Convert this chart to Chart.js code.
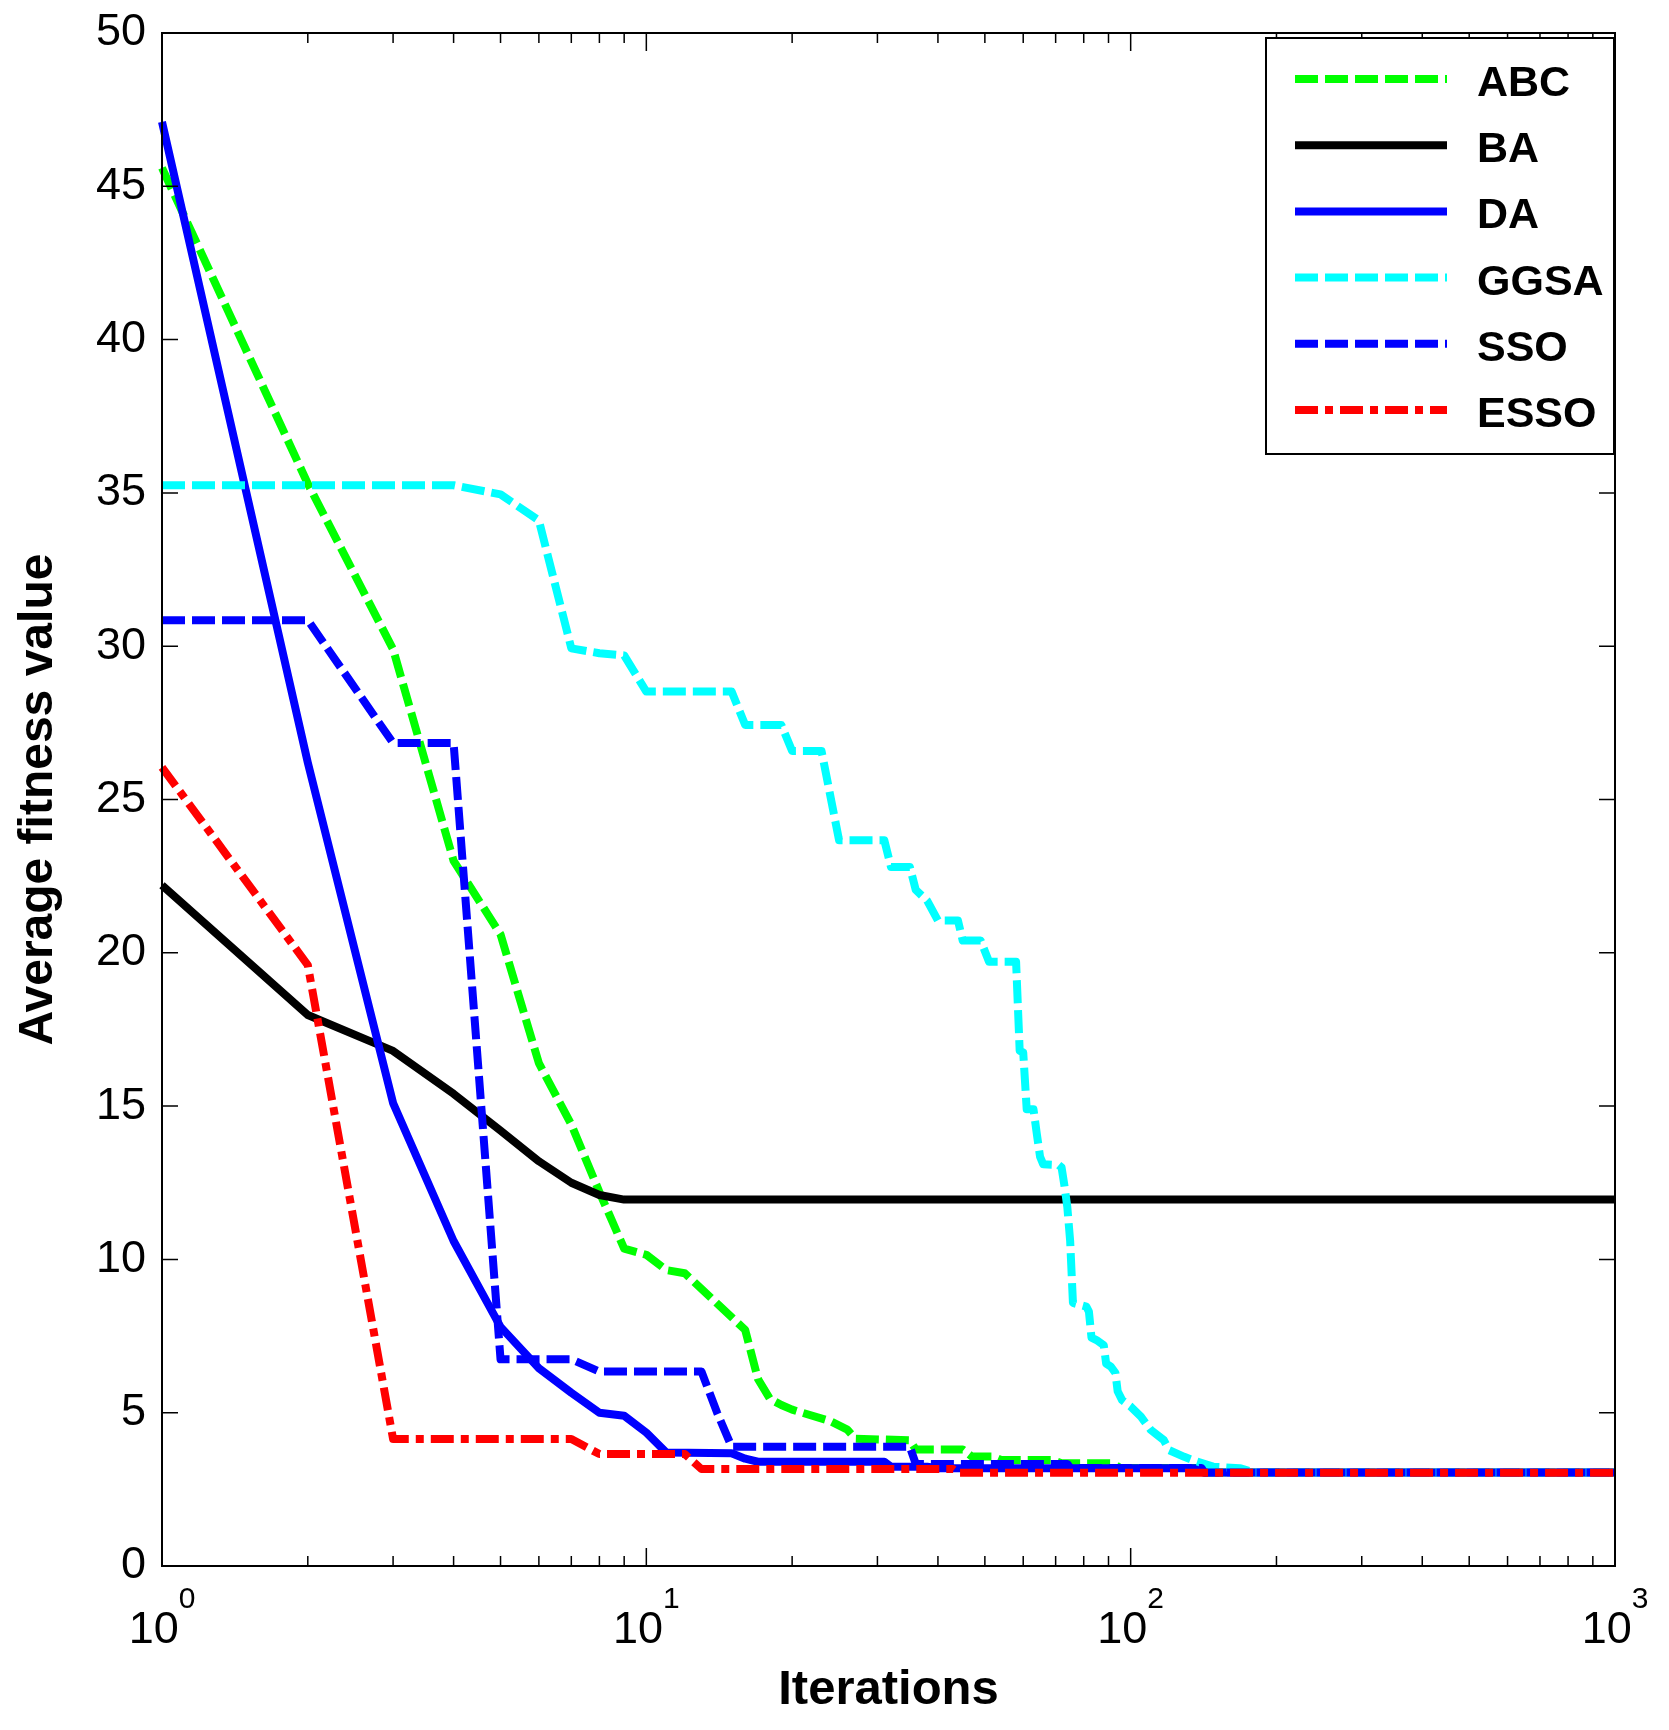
<!DOCTYPE html>
<html>
<head>
<meta charset="utf-8">
<title>Average fitness value vs iterations</title>
<script src="https://cdn.jsdelivr.net/npm/chart.js@4.4.1/dist/chart.umd.min.js"></script>
<style>
  body { margin: 0; background: #fff; }
  canvas { display: block; }
</style>
</head>
<body>
<canvas id="fitnessChart" width="1669" height="1730"></canvas>
<script>
// Convergence curves (iteration, average fitness)
const abcIter = [1, 2, 3, 4, 5, 6, 7, 8, 9, 10, 11, 12, 16, 17, 18, 19, 20, 24, 26, 27, 35, 36, 45, 47, 52, 54, 69, 72, 92, 95, 139, 141, 1000];
const abcFit  = [45.6, 35.3, 29.9, 23.0, 20.6, 16.4, 14.4, 12.2, 10.35, 10.15, 9.65, 9.55, 7.7, 6.1, 5.45, 5.25, 5.1, 4.72, 4.45, 4.15, 4.1, 3.8, 3.8, 3.57, 3.57, 3.46, 3.46, 3.35, 3.35, 3.2, 3.2, 3.05, 3.05];

const baIter = [1, 2, 3, 4, 5, 6, 7, 8, 9, 1000];
const baFit  = [22.2, 17.97, 16.8, 15.4, 14.2, 13.2, 12.5, 12.1, 11.95, 11.95];

const daIter = [1, 2, 3, 4, 5, 6, 7, 8, 9, 10, 11, 15, 16, 17, 31, 32, 38, 40, 139, 141, 1000];
const daFit  = [47.1, 26.2, 15.1, 10.6, 7.8, 6.45, 5.65, 5.0, 4.9, 4.35, 3.7, 3.68, 3.5, 3.4, 3.4, 3.24, 3.24, 3.19, 3.19, 3.05, 3.05];

const ggsaIter = [1, 4, 5, 6, 7, 8, 9, 10, 15, 16, 19, 20, 23, 25, 31, 32, 35, 36, 38, 40, 44, 45, 49, 51, 58, 59, 60, 61, 63, 64, 65, 66, 71, 72, 73, 74, 75, 76, 81, 82, 83, 85, 88, 89, 91, 93, 94, 96, 100, 105, 110, 117, 120, 129, 134, 148, 168, 180, 1000];
const ggsaFit  = [35.25, 35.25, 34.95, 34.1, 29.93, 29.77, 29.7, 28.52, 28.52, 27.43, 27.43, 26.58, 26.58, 23.67, 23.67, 22.8, 22.8, 22.05, 21.7, 21.05, 21.05, 20.4, 20.4, 19.71, 19.71, 16.8, 16.75, 14.9, 14.9, 14.1, 13.35, 13.1, 13.08, 13.0, 12.4, 11.7, 10.6, 8.58, 8.46, 8.3, 7.45, 7.37, 7.2, 6.6, 6.5, 6.3, 5.7, 5.41, 5.2, 4.87, 4.44, 4.11, 3.78, 3.56, 3.46, 3.24, 3.19, 3.05, 3.05];

const ssoIter = [1, 2, 3, 4, 5, 7, 8, 13, 14, 15, 35, 36, 74, 75, 140, 142, 1000];
const ssoFit  = [30.85, 30.85, 26.84, 26.84, 6.74, 6.74, 6.34, 6.34, 5.0, 3.89, 3.89, 3.33, 3.33, 3.2, 3.2, 3.05, 3.05];

const essoIter = [1, 2, 3, 7, 8, 12, 13, 43, 44, 1000];
const essoFit  = [26.05, 19.6, 4.14, 4.14, 3.65, 3.65, 3.16, 3.16, 3.04, 3.04];

// Axis ticks
const xTickValues = [1, 2, 3, 4, 5, 6, 7, 8, 9, 10, 20, 30, 40, 50, 60, 70, 80, 90, 100, 200, 300, 400, 500, 600, 700, 800, 900, 1000];
const xMajorTicks = [1, 10, 100, 1000];
const xTickExponents = ['0', '1', '2', '3'];
const yMin = 0;
const yMax = 50;
const yStep = 5;

const FONT = "'Liberation Sans', Arial, Helvetica, sans-serif";

function toPoints(iters, values) {
  return iters.map((it, i) => ({ x: it, y: values[i] }));
}

function series(label, iters, values, color, dash, order) {
  return {
    label: label,
    data: toPoints(iters, values),
    borderColor: color,
    backgroundColor: color,
    borderWidth: 8,
    borderDash: dash,
    borderCapStyle: 'butt',
    borderJoinStyle: 'round',
    pointRadius: 0,
    tension: 0,
    fill: false,
    clip: false,
    order: order
  };
}

const DASHED = [23, 7];
const DASH_DOT = [23, 7, 8, 7];

// Box, inward ticks and 10^n labels, like the original axes
const axesFrame = {
  id: 'axesFrame',
  afterDraw(chart) {
    const { ctx, chartArea: a } = chart;
    const xs = chart.scales.x;
    const ys = chart.scales.y;
    ctx.save();
    ctx.strokeStyle = '#000';
    ctx.lineWidth = 1.5;
    ctx.beginPath();
    ys.ticks.forEach(t => {
      const py = ys.getPixelForValue(t.value);
      ctx.moveTo(a.left, py); ctx.lineTo(a.left + 16, py);
      ctx.moveTo(a.right, py); ctx.lineTo(a.right - 16, py);
    });
    xs.ticks.forEach(t => {
      const px = xs.getPixelForValue(t.value);
      const len = xMajorTicks.includes(t.value) ? 18 : 10;
      ctx.moveTo(px, a.bottom); ctx.lineTo(px, a.bottom - len);
      ctx.moveTo(px, a.top); ctx.lineTo(px, a.top + len);
    });
    ctx.stroke();

    ctx.lineWidth = 2;
    ctx.strokeRect(a.left, a.top, a.right - a.left, a.bottom - a.top);

    // x tick labels: 10 with a raised exponent
    ctx.fillStyle = '#000';
    ctx.textBaseline = 'alphabetic';
    ctx.textAlign = 'left';
    xMajorTicks.forEach((v, i) => {
      const px = xs.getPixelForValue(v);
      ctx.font = '45px ' + FONT;
      const wBase = ctx.measureText('10').width;
      ctx.font = '30px ' + FONT;
      const wExp = ctx.measureText(xTickExponents[i]).width;
      const start = px - (wBase + wExp) / 2;
      ctx.font = '45px ' + FONT;
      ctx.fillText('10', start, a.bottom + 77);
      ctx.font = '30px ' + FONT;
      ctx.fillText(xTickExponents[i], start + wBase, a.bottom + 42);
    });
    ctx.restore();
  }
};

// Boxed legend in the upper right corner of the axes
const boxLegend = {
  id: 'boxLegend',
  afterDraw(chart) {
    const { ctx, chartArea: a } = chart;
    const width = 348, height = 416;
    const left = a.right - width - 1;
    const top = a.top + 5;
    ctx.save();
    ctx.fillStyle = '#fff';
    ctx.fillRect(left, top, width, height);
    ctx.strokeStyle = '#000';
    ctx.lineWidth = 2;
    ctx.strokeRect(left, top, width, height);

    chart.data.datasets.forEach((ds, i) => {
      const y = top + 41 + i * 66.2;
      ctx.beginPath();
      ctx.setLineDash(ds.borderDash || []);
      ctx.lineCap = 'butt';
      ctx.strokeStyle = ds.borderColor;
      ctx.lineWidth = ds.borderWidth;
      ctx.moveTo(left + 29, y);
      ctx.lineTo(left + 181, y);
      ctx.stroke();
      ctx.setLineDash([]);

      ctx.fillStyle = '#000';
      ctx.font = 'bold 43px ' + FONT;
      ctx.textAlign = 'left';
      ctx.textBaseline = 'alphabetic';
      ctx.fillText(ds.label, left + 211, y + 17);
    });
    ctx.restore();
  }
};

const chart = new Chart(document.getElementById('fitnessChart'), {
  type: 'line',
  data: {
    datasets: [
      series('ABC', abcIter, abcFit, '#00ff00', DASHED, 5),
      series('BA', baIter, baFit, '#000000', [], 4),
      series('DA', daIter, daFit, '#0000ff', [], 3),
      series('GGSA', ggsaIter, ggsaFit, '#00ffff', DASHED, 2),
      series('SSO', ssoIter, ssoFit, '#0000ff', DASHED, 1),
      series('ESSO', essoIter, essoFit, '#ff0000', DASH_DOT, 0)
    ]
  },
  options: {
    responsive: false,
    devicePixelRatio: 1,
    animation: false,
    events: [],
    layout: { padding: { top: 33, right: 54, left: 0, bottom: 0 } },
    plugins: {
      legend: { display: false },
      tooltip: { enabled: false }
    },
    scales: {
      x: {
        type: 'logarithmic',
        min: 1,
        max: 1000,
        grid: { display: false },
        border: { display: false },
        ticks: { display: false, autoSkip: false },
        afterBuildTicks: (scale) => {
          scale.ticks = xTickValues.map(v => ({ value: v, major: xMajorTicks.includes(v) }));
        },
        afterFit: (scale) => {
          scale.height = 164;
          scale.paddingLeft = 0;
          scale.paddingRight = 0;
        },
        title: {
          display: true,
          text: 'Iterations',
          color: '#000',
          font: { family: FONT, size: 49, weight: 'bold' },
          padding: { top: 0, bottom: 10 }
        }
      },
      y: {
        type: 'linear',
        min: yMin,
        max: yMax,
        grid: { display: false, drawTicks: false },
        border: { display: false },
        ticks: {
          stepSize: yStep,
          padding: 16,
          color: '#000',
          font: { family: FONT, size: 45 }
        },
        afterFit: (scale) => {
          scale.width = 162;
          // tick labels may overhang the plot box, as in the original
          scale.paddingTop = 0;
          scale.paddingBottom = 0;
        },
        title: {
          display: true,
          text: 'Average fitness value',
          color: '#000',
          font: { family: FONT, size: 48, weight: 'bold' },
          padding: { top: 10, bottom: 0 }
        }
      }
    }
  },
  plugins: [axesFrame, boxLegend]
});
</script>
</body>
</html>
